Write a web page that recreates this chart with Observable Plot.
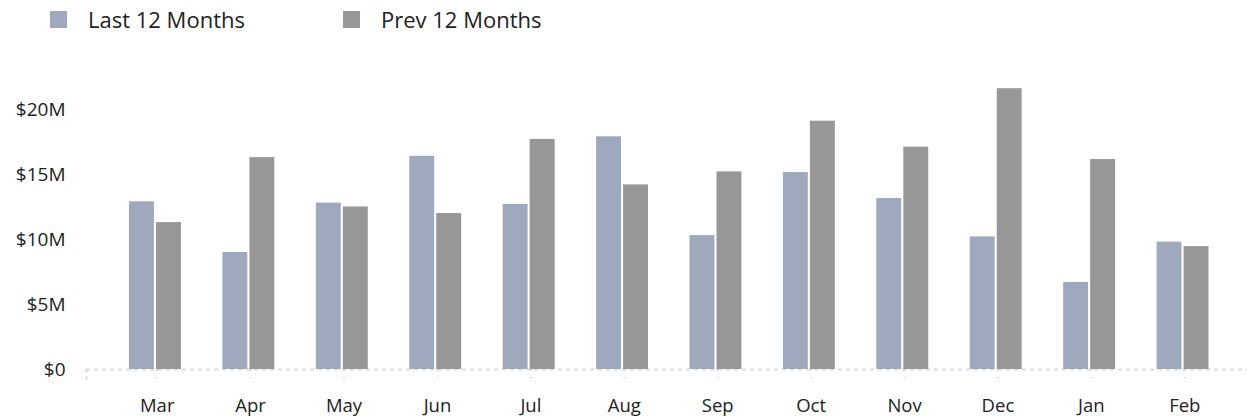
<!DOCTYPE html>
<html>
<head>
<meta charset="utf-8">
<script src="https://cdn.jsdelivr.net/npm/d3@7"></script>
<script src="https://cdn.jsdelivr.net/npm/@observablehq/plot@0.6"></script>
<style>
  html, body { margin: 0; padding: 0; background: #fff; }
  #wrap { position: relative; width: 1247px; height: 416px; font-family: "Open Sans", Lato, sans-serif; }
  #legend { position: absolute; left: 50px; top: 4px; display: flex; align-items: center; font-size: 22px; color: #222; }
  .item { display: flex; align-items: center; }
  .sw { width: 17px; height: 17px; margin-right: 21px; }
  svg { display: block; }
</style>
</head>
<body>
<div id="wrap">
  <div id="legend"></div>
  <div id="chart"></div>
</div>
<script>
const months = ["Mar","Apr","May","Jun","Jul","Aug","Sep","Oct","Nov","Dec","Jan","Feb"];
const last12 = [12.9, 9.0, 12.8, 16.4, 12.7, 17.9, 10.3, 15.15, 13.15, 10.2, 6.7, 9.8];
const prev12 = [11.3, 16.3, 12.5, 12.0, 17.7, 14.2, 15.2, 19.1, 17.1, 21.6, 16.15, 9.45];
const seriesNames = ["Last 12 Months", "Prev 12 Months"];
const seriesColors = ["#9FA9BD", "#979797"];
const yTicks = [0, 5, 10, 15, 20];

const lastData = months.map((m, i) => ({month: m, value: last12[i]}));
const prevData = months.map((m, i) => ({month: m, value: prev12[i]}));

// legend
const legend = document.getElementById("legend");
seriesNames.forEach((name, i) => {
  const it = document.createElement("div");
  it.className = "item";
  it.style.marginRight = i === 0 ? "98px" : "0";
  const sw = document.createElement("div");
  sw.className = "sw";
  sw.style.background = seriesColors[i];
  const tx = document.createElement("span");
  tx.textContent = name;
  it.appendChild(sw); it.appendChild(tx);
  legend.appendChild(it);
});

const chart = Plot.plot({
  width: 1247,
  height: 416,
  marginTop: 83,
  marginBottom: 47,
  marginLeft: 110,
  marginRight: 16,
  style: {fontFamily: "'Open Sans', Lato, sans-serif", fontSize: "18px", color: "#222", background: "#fff"},
  x: {domain: months, padding: 0, round: false, label: null},
  y: {domain: [0, 22], label: null},
  marks: [
    Plot.frame({anchor: "left", stroke: "#d6d6d6", strokeWidth: 2, strokeDasharray: "2,6", insetLeft: -24, insetTop: 286, insetBottom: -9}),
    Plot.ruleY([0], {stroke: "#dcdcdc", strokeWidth: 2, strokeDasharray: "4,4", insetLeft: -24, insetRight: -16}),
    Plot.barY(lastData, {x: "month", y: "value", fill: seriesColors[0], insetLeft: 19, insetRight: 49.5}),
    Plot.barY(prevData, {x: "month", y: "value", fill: seriesColors[1], insetLeft: 46, insetRight: 22.5}),
    Plot.axisX({tickSize: 9, tickPadding: 20, stroke: "#d6d6d6", strokeWidth: 2, strokeDasharray: "2,6", fill: "#222", fontSize: 18.5}),
    Plot.axisY({ticks: yTicks, tickSize: 0, tickPadding: 45, tickFormat: d => d === 0 ? "$0" : `$${d}M`, fill: "#222", fontSize: 19, style: {letterSpacing: "0.8px"}})
  ]
});
document.getElementById("chart").appendChild(chart);
</script>
</body>
</html>
